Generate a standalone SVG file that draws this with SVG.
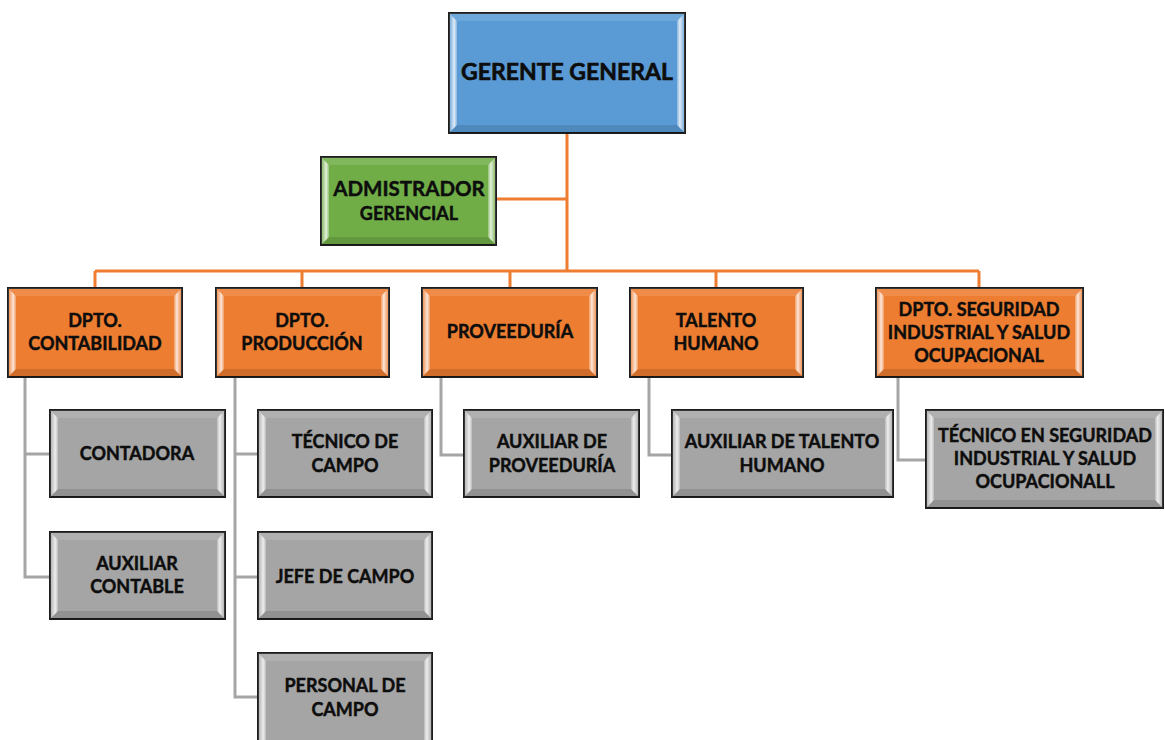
<svg xmlns="http://www.w3.org/2000/svg" width="1165" height="740" viewBox="0 0 1165 740">
  <defs>
    <style>
      .box { stroke: #1c1c1c; stroke-width: 2; }
      .blue { fill: #5B9BD5; }
      .green { fill: #70AD47; }
      .orange { fill: #ED7D31; }
      .gray { fill: #A5A5A5; }
      .bl { fill: url(#bevL); }
      .br { fill: url(#bevR); }
      .bt { fill: #ffffff; fill-opacity: 0.12; }
      .bb { fill: #000000; fill-opacity: 0.12; }
      .lbl { font-family: Lato, "Open Sans", "Liberation Sans", sans-serif; font-weight: bold; fill: #0d0d0d; stroke: #0d0d0d; stroke-width: 0.45; text-anchor: middle; font-size: 18px; }
      .big { font-size: 23px; stroke-width: 0.6; }
      .mid { font-size: 20.5px; }
      .c-main { fill: none; stroke: #ED7D31; stroke-width: 3; }
      .c-sub { fill: none; stroke: #A5A5A5; stroke-width: 3; }
    </style>
    <linearGradient id="bevL" x1="0" y1="0" x2="1" y2="0">
      <stop offset="0" stop-color="#ffffff" stop-opacity="0.05"/>
      <stop offset="0.65" stop-color="#ffffff" stop-opacity="0.8"/>
      <stop offset="1" stop-color="#ffffff" stop-opacity="0.25"/>
    </linearGradient>
    <linearGradient id="bevR" x1="1" y1="0" x2="0" y2="0">
      <stop offset="0" stop-color="#ffffff" stop-opacity="0.05"/>
      <stop offset="0.65" stop-color="#ffffff" stop-opacity="0.8"/>
      <stop offset="1" stop-color="#ffffff" stop-opacity="0.25"/>
    </linearGradient>
  </defs>
  <rect width="1165" height="740" fill="#ffffff"/>

  <!-- connectors -->
  <g id="connectors">
    <path class="c-main" d="M567 133 V271 M496 199 H567 M95 271 H979 M95 271 V288 M302 271 V288 M510 271 V288 M716 271 V288 M979 271 V288"/>
    <path class="c-sub" d="M25 377 V577 H50 M25 454 H50"/>
    <path class="c-sub" d="M235 377 V697 H258 M235 454 H258 M235 577 H258"/>
    <path class="c-sub" d="M441 377 V455 H464"/>
    <path class="c-sub" d="M649 377 V455 H672"/>
    <path class="c-sub" d="M898 377 V460 H926"/>
  </g>

  <!-- GERENTE GENERAL: 449,13 236x120 -->
  <g id="gerente-general">
    <rect class="box blue" x="449" y="13" width="236" height="120"/>
    <polygon class="bt" points="449,13 685,13 677,21 457,21"/>
    <polygon class="bb" points="449,133 685,133 677,125 457,125"/>
    <polygon class="bl" points="449,13 457,21 457,125 449,133"/>
    <polygon class="br" points="685,13 677,21 677,125 685,133"/>
    <text class="lbl big" x="567" y="80">GERENTE GENERAL</text>
  </g>

  <!-- ADMISTRADOR GERENCIAL: 321,157 175x88 -->
  <g id="administrador">
    <rect class="box green" x="321" y="157" width="175" height="88"/>
    <polygon class="bt" points="321,157 496,157 488,165 329,165"/>
    <polygon class="bb" points="321,245 496,245 488,237 329,237"/>
    <polygon class="bl" points="321,157 329,165 329,237 321,245"/>
    <polygon class="br" points="496,157 488,165 488,237 496,245"/>
    <text class="lbl mid" x="409" y="196">ADMISTRADOR</text>
    <text class="lbl" x="409" y="220">GERENCIAL</text>
  </g>

  <!-- departments -->
  <g id="dpto-contabilidad">
    <rect class="box orange" x="8" y="288" width="174" height="89"/>
    <polygon class="bt" points="8,288 182,288 174,296 16,296"/>
    <polygon class="bb" points="8,377 182,377 174,369 16,369"/>
    <polygon class="bl" points="8,288 16,296 16,369 8,377"/>
    <polygon class="br" points="182,288 174,296 174,369 182,377"/>
    <text class="lbl" x="95" y="327">DPTO.</text>
    <text class="lbl" x="95" y="350">CONTABILIDAD</text>
  </g>

  <g id="dpto-produccion">
    <rect class="box orange" x="216" y="288" width="173" height="89"/>
    <polygon class="bt" points="216,288 389,288 381,296 224,296"/>
    <polygon class="bb" points="216,377 389,377 381,369 224,369"/>
    <polygon class="bl" points="216,288 224,296 224,369 216,377"/>
    <polygon class="br" points="389,288 381,296 381,369 389,377"/>
    <text class="lbl" x="302" y="327">DPTO.</text>
    <text class="lbl" x="302" y="350">PRODUCCIÓN</text>
  </g>

  <g id="proveeduria">
    <rect class="box orange" x="422" y="288" width="175" height="89"/>
    <polygon class="bt" points="422,288 597,288 589,296 430,296"/>
    <polygon class="bb" points="422,377 597,377 589,369 430,369"/>
    <polygon class="bl" points="422,288 430,296 430,369 422,377"/>
    <polygon class="br" points="597,288 589,296 589,369 597,377"/>
    <text class="lbl" x="510" y="338">PROVEEDURÍA</text>
  </g>

  <g id="talento-humano">
    <rect class="box orange" x="630" y="288" width="173" height="89"/>
    <polygon class="bt" points="630,288 803,288 795,296 638,296"/>
    <polygon class="bb" points="630,377 803,377 795,369 638,369"/>
    <polygon class="bl" points="630,288 638,296 638,369 630,377"/>
    <polygon class="br" points="803,288 795,296 795,369 803,377"/>
    <text class="lbl" x="716" y="327">TALENTO</text>
    <text class="lbl" x="716" y="350">HUMANO</text>
  </g>

  <g id="dpto-seguridad">
    <rect class="box orange" x="876" y="288" width="207" height="89"/>
    <polygon class="bt" points="876,288 1083,288 1075,296 884,296"/>
    <polygon class="bb" points="876,377 1083,377 1075,369 884,369"/>
    <polygon class="bl" points="876,288 884,296 884,369 876,377"/>
    <polygon class="br" points="1083,288 1075,296 1075,369 1083,377"/>
    <text class="lbl" x="979" y="316">DPTO. SEGURIDAD</text>
    <text class="lbl" x="979" y="339">INDUSTRIAL Y SALUD</text>
    <text class="lbl" x="979" y="362">OCUPACIONAL</text>
  </g>

  <!-- staff -->
  <g id="contadora">
    <rect class="box gray" x="50" y="410" width="175" height="87"/>
    <polygon class="bt" points="50,410 225,410 217,418 58,418"/>
    <polygon class="bb" points="50,497 225,497 217,489 58,489"/>
    <polygon class="bl" points="50,410 58,418 58,489 50,497"/>
    <polygon class="br" points="225,410 217,418 217,489 225,497"/>
    <text class="lbl" x="137" y="460">CONTADORA</text>
  </g>

  <g id="auxiliar-contable">
    <rect class="box gray" x="50" y="532" width="175" height="87"/>
    <polygon class="bt" points="50,532 225,532 217,540 58,540"/>
    <polygon class="bb" points="50,619 225,619 217,611 58,611"/>
    <polygon class="bl" points="50,532 58,540 58,611 50,619"/>
    <polygon class="br" points="225,532 217,540 217,611 225,619"/>
    <text class="lbl" x="137" y="570">AUXILIAR</text>
    <text class="lbl" x="137" y="593">CONTABLE</text>
  </g>

  <g id="tecnico-campo">
    <rect class="box gray" x="258" y="410" width="174" height="87"/>
    <polygon class="bt" points="258,410 432,410 424,418 266,418"/>
    <polygon class="bb" points="258,497 432,497 424,489 266,489"/>
    <polygon class="bl" points="258,410 266,418 266,489 258,497"/>
    <polygon class="br" points="432,410 424,418 424,489 432,497"/>
    <text class="lbl" x="345" y="448">TÉCNICO DE</text>
    <text class="lbl" x="345" y="472">CAMPO</text>
  </g>

  <g id="jefe-campo">
    <rect class="box gray" x="258" y="532" width="174" height="87"/>
    <polygon class="bt" points="258,532 432,532 424,540 266,540"/>
    <polygon class="bb" points="258,619 432,619 424,611 266,611"/>
    <polygon class="bl" points="258,532 266,540 266,611 258,619"/>
    <polygon class="br" points="432,532 424,540 424,611 432,619"/>
    <text class="lbl" x="345" y="583">JEFE DE CAMPO</text>
  </g>

  <g id="personal-campo">
    <rect class="box gray" x="258" y="653" width="174" height="92"/>
    <polygon class="bt" points="258,653 432,653 424,661 266,661"/>
    <polygon class="bl" points="258,653 266,661 266,745 258,745"/>
    <polygon class="br" points="432,653 424,661 424,745 432,745"/>
    <text class="lbl" x="345" y="692">PERSONAL DE</text>
    <text class="lbl" x="345" y="716">CAMPO</text>
  </g>

  <g id="auxiliar-proveeduria">
    <rect class="box gray" x="464" y="410" width="175" height="87"/>
    <polygon class="bt" points="464,410 639,410 631,418 472,418"/>
    <polygon class="bb" points="464,497 639,497 631,489 472,489"/>
    <polygon class="bl" points="464,410 472,418 472,489 464,497"/>
    <polygon class="br" points="639,410 631,418 631,489 639,497"/>
    <text class="lbl" x="552" y="448">AUXILIAR DE</text>
    <text class="lbl" x="552" y="472">PROVEEDURÍA</text>
  </g>

  <g id="auxiliar-talento">
    <rect class="box gray" x="672" y="410" width="221" height="87"/>
    <polygon class="bt" points="672,410 893,410 885,418 680,418"/>
    <polygon class="bb" points="672,497 893,497 885,489 680,489"/>
    <polygon class="bl" points="672,410 680,418 680,489 672,497"/>
    <polygon class="br" points="893,410 885,418 885,489 893,497"/>
    <text class="lbl" x="782" y="448">AUXILIAR DE TALENTO</text>
    <text class="lbl" x="782" y="472">HUMANO</text>
  </g>

  <g id="tecnico-seguridad">
    <rect class="box gray" x="926" y="410" width="237" height="98"/>
    <polygon class="bt" points="926,410 1163,410 1155,418 934,418"/>
    <polygon class="bb" points="926,508 1163,508 1155,500 934,500"/>
    <polygon class="bl" points="926,410 934,418 934,500 926,508"/>
    <polygon class="br" points="1163,410 1155,418 1155,500 1163,508"/>
    <text class="lbl" x="1045" y="442">TÉCNICO EN SEGURIDAD</text>
    <text class="lbl" x="1045" y="465">INDUSTRIAL Y SALUD</text>
    <text class="lbl" x="1045" y="488">OCUPACIONALL</text>
  </g>
</svg>
